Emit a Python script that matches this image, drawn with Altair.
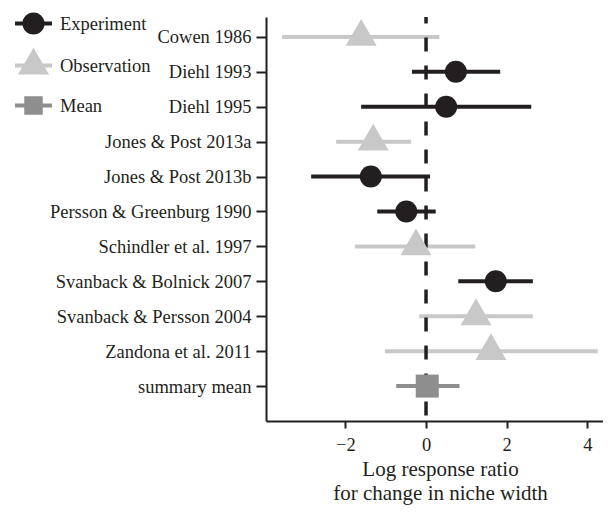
import json
import altair as alt
import pandas as pd

studies = ["Cowen 1986", "Diehl 1993", "Diehl 1995", "Jones & Post 2013a",
           "Jones & Post 2013b", "Persson & Greenburg 1990", "Schindler et al. 1997",
           "Svanback & Bolnick 2007", "Svanback & Persson 2004", "Zandona et al. 2011",
           "summary mean"]
types = ["Observation", "Experiment", "Experiment", "Observation", "Experiment",
         "Experiment", "Observation", "Experiment", "Observation", "Observation", "Mean"]
estimate = [-1.61, 0.74, 0.50, -1.31, -1.37, -0.49, -0.25, 1.73, 1.24, 1.61, 0.03]
lower = [-3.57, -0.35, -1.61, -2.23, -2.85, -1.21, -1.76, 0.80, -0.17, -1.02, -0.74]
upper = [0.33, 1.84, 2.61, -0.37, 0.10, 0.24, 1.22, 2.65, 2.65, 4.26, 0.83]

N = len(studies)
df = pd.DataFrame({
    "study": studies,
    "type": types,
    "est": estimate,
    "lo": lower,
    "hi": upper,
    "pos": [N - i for i in range(N)],
})

type_domain = ["Experiment", "Observation", "Mean"]
type_colors = ["#231f20", "#c8c8c8", "#8e8e8e"]
tri_path = "M0,-1.155L1,0.577L-1,0.577Z"
point_shapes = ["circle", tri_path, "square"]
point_sizes = [484, 961, 529]

# legend symbols: shape with a line through it
bar = "M-1,-0.11H1V0.11H-1Z"
leg_circle = bar + " M-0.6,0A0.6,0.6 0 1,1 0.6,0A0.6,0.6 0 1,1 -0.6,0Z"
leg_tri = bar + " M0,-0.966L0.84,0.483L-0.84,0.483Z"
leg_square = bar + " M-0.5,-0.5H0.5V0.5H-0.5Z"
legend_shapes = [leg_circle, leg_tri, leg_square]

FONT = "Liberation Serif"
INK = "#231f20"
FS = 18.5

x_scale = alt.Scale(domain=[-3.97, 4.39], nice=False, zero=False)
y_scale = alt.Scale(domain=[0, 11.57], nice=False, zero=False)

label_expr = f"{json.dumps(studies)}[{N} - datum.value]"

x_axis = alt.Axis(values=[-2, 0, 2, 4], title=["Log response ratio", "for change in niche width"],
                  grid=False, domainColor=INK, domainWidth=2, tickColor=INK, tickWidth=2,
                  tickSize=7, labelFont=FONT, labelFontSize=FS, labelColor=INK,
                  labelPadding=7, labelFlush=False, titleFont=FONT, titleFontSize=21,
                  titleFontWeight="normal", titleColor=INK, titleLineHeight=24,
                  titlePadding=5, titleX=174)
y_axis = alt.Axis(values=list(range(1, N + 1)), labelExpr=label_expr, title=None,
                  grid=False, domainColor=INK, domainWidth=2, tickColor=INK, tickWidth=2,
                  tickSize=10, labelFont=FONT, labelFontSize=FS, labelColor=INK,
                  labelPadding=5, labelFlush=False, labelOverlap=False, labelLimit=0)

color_scale = alt.Scale(domain=type_domain, range=type_colors)

base = alt.Chart(df)

bars = base.mark_rule(strokeWidth=4).encode(
    x=alt.X("lo:Q", scale=x_scale, axis=x_axis),
    x2="hi:Q",
    y=alt.Y("pos:Q", scale=y_scale, axis=y_axis),
    color=alt.Color("type:N", scale=color_scale, legend=None),
)

zero_line = alt.Chart(pd.DataFrame({"z": [0]})).mark_rule(
    strokeWidth=3.5, strokeDash=[14, 14], strokeDashOffset=7.5, color=INK
).encode(x=alt.X("z:Q", scale=x_scale))

points = base.mark_point(filled=True, opacity=1, strokeWidth=0).encode(
    x=alt.X("est:Q", scale=x_scale),
    y=alt.Y("pos:Q", scale=y_scale),
    color=alt.Color("type:N", scale=color_scale, legend=None),
    shape=alt.Shape("type:N", scale=alt.Scale(domain=type_domain, range=point_shapes), legend=None),
    size=alt.Size("type:N", scale=alt.Scale(type="ordinal", domain=type_domain, range=point_sizes),
                  legend=None),
)

legend = alt.Legend(
    title=None, orient="none", legendX=-251, legendY=-12,
    symbolSize=1369, rowPadding=12, labelOffset=8,
    labelFont=FONT, labelFontSize=FS, labelColor=INK, padding=0,
    symbolStrokeWidth=0, symbolOpacity=1,
)

legend_layer = base.mark_point(filled=True, opacity=0, size=1369).encode(
    x=alt.X("est:Q", scale=x_scale),
    y=alt.Y("pos:Q", scale=y_scale),
    color=alt.Color("type:N", scale=color_scale, legend=legend),
    shape=alt.Shape("type:N", scale=alt.Scale(domain=type_domain, range=legend_shapes), legend=legend),
)

chart = alt.layer(bars, zero_line, points, legend_layer).resolve_scale(
    color="independent", shape="independent"
).properties(
    width=337, height=404,
    autosize=alt.AutoSizeParams(type="none"),
    padding={"left": 258, "top": 9, "right": 0, "bottom": 84},
).configure_view(stroke=None)

chart.save("out.html", embed_options={"renderer": "svg", "actions": False})
